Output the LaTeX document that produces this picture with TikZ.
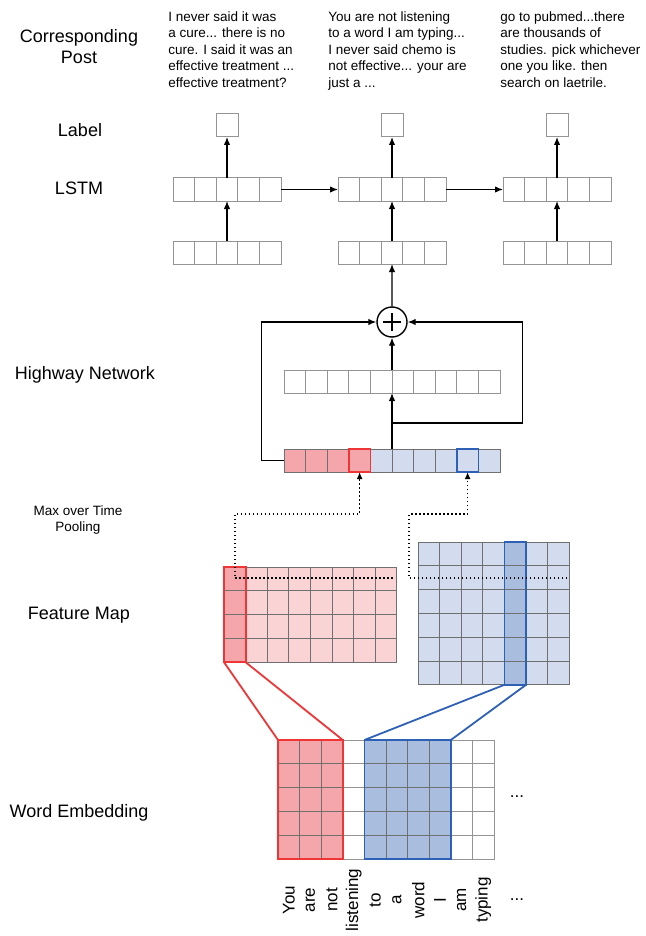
\documentclass[tikz,border=0pt]{standalone}
\usepackage{fontspec}
\setmainfont{Liberation Sans}
\usetikzlibrary{arrows.meta, positioning}

\definecolor{cellgray}{HTML}{949494}
\definecolor{gridgray}{HTML}{707070}
\definecolor{pinkfill}{HTML}{FAD3D5}
\definecolor{redfill}{HTML}{F4A6AA}
\definecolor{redline}{HTML}{EE3636}
\definecolor{bluefill}{HTML}{D3DCEE}
\definecolor{bluedark}{HTML}{A9BEDF}
\definecolor{blueline}{HTML}{2E60B5}
\newcommand\cellcol{cellgray}

\begin{document}
\begin{tikzpicture}[x=1pt, y=-1pt, >={Latex[length=8pt, width=6.5pt]}, semithick,
    big/.style={font=\fontsize{18}{21}\selectfont},
    small/.style={font=\fontsize{13.5}{16}\selectfont},
    post/.style={font=\fontsize{13.5}{16.5}\selectfont, align=left, inner sep=0, anchor=north west},
    word/.style={font=\fontsize{17}{20}\selectfont},
    celllines/.code={\def\cellcol{#1}},
    box/.style={draw=cellgray, line width=1pt, minimum width=22pt, minimum height=23pt, inner sep=0, outer sep=0},
    vec/.style={draw=\cellcol, line width=1pt, inner sep=0, outer sep=0,
      minimum width=#1*21.6pt, minimum height=23pt,
      path picture={\foreach \k in {1,...,#1}
        \draw[\cellcol, line width=1pt] ([xshift=\k*21.6pt]path picture bounding box.south west) -- ([xshift=\k*21.6pt]path picture bounding box.north west);}},
    fmap/.style 2 args={draw=\cellcol, line width=1pt, inner sep=0, outer sep=0,
      minimum width=#1*21.6pt, minimum height=#2*23.8pt,
      path picture={\foreach \k in {1,...,#1}
        \draw[\cellcol, line width=1pt] ([xshift=\k*21.6pt]path picture bounding box.south west) -- ([xshift=\k*21.6pt]path picture bounding box.north west);
        \foreach \k in {1,...,#2}
        \draw[\cellcol, line width=1pt] ([yshift=\k*23.8pt]path picture bounding box.south west) -- ([yshift=\k*23.8pt]path picture bounding box.south east);}},
    hot/.style={line width=1.8pt},
    flow/.style={->, line width=1.3pt},
    pool line/.style={-{Latex[length=7pt, width=6pt]}, line width=1.5pt, dash pattern=on 1.5pt off 2.5pt}]

    \useasboundingbox (0,0) rectangle (645,936);

    \node[big, align=center] (cp) at (79,46.5) {Corresponding\\Post};
    \node[big] (lb) at (80,130) {Label};
    \node[big] (ls) at (79,188) {LSTM};
    \node[big] (hn) at (85,375) {Highway Network};
    \node[small, align=center] (mp) at (78,520) {Max over Time\\Pooling};
    \node[big] (fm) at (79,615) {Feature Map};
    \node[big] (we) at (79,813) {Word Embedding};

    \node[post] (p1) at (168,11) {I never said it was\\a cure... there is no\\cure. I said it was an\\effective treatment ...\\effective treatment?};
    \node[post] (p2) at (328,11) {You are not listening\\to a word I am typing...\\I never said chemo is\\not effective... your are\\just a ...};
    \node[post] (p3) at (500,11) {go to pubmed...there\\are thousands of\\studies. pick whichever\\one you like. then\\search on laetrile.};

    \node[vec=5] (h1) at (227,189.5) {};
    \node[vec=5, right=57pt of h1] (h2) {};
    \node[vec=5, right=57pt of h2] (h3) {};
    \node[box, above=41pt of h1] (y1) {};
    \node[box, above=41pt of h2] (y2) {};
    \node[box, above=41pt of h3] (y3) {};
    \node[vec=5, below=40pt of h1] (x1) {};
    \node[vec=5, below=40pt of h2] (x2) {};
    \node[vec=5, below=40pt of h3] (x3) {};

    \node[circle, draw, line width=1.4pt, minimum size=30pt, inner sep=0,
      path picture={\draw[line width=1.3pt]
        ([xshift=-9pt]path picture bounding box.center) -- ([xshift=9pt]path picture bounding box.center)
        ([yshift=-9pt]path picture bounding box.center) -- ([yshift=9pt]path picture bounding box.center);}] (s) at (392,322) {};
    \node[vec=10] (hw) at (392,381.5) {};

    \node[celllines=gridgray, vec=4, fill=redfill, anchor=west] (pr) at (284,460.5) {};
    \node[celllines=gridgray, vec=6, fill=bluefill, right=0pt of pr] (pb) {};
    \node[celllines=gridgray, vec=1, fill=redfill, draw=redline, hot, anchor=east] (pm) at (pr.east) {};
    \node[celllines=gridgray, vec=1, fill=bluefill, draw=blueline, hot, anchor=west] (pn) at ([xshift=86.4pt]pb.west) {};

    \node[celllines=gridgray, fmap={8}{4}, fill=pinkfill, anchor=north west] (fr) at (224,567) {};
    \node[celllines=gridgray, fmap={1}{4}, fill=redfill, draw=redline, hot, anchor=north west] (fc) at (fr.north west) {};
    \node[celllines=gridgray, fmap={7}{6}, fill=bluefill, anchor=north west] (fb) at (418,542) {};
    \node[celllines=gridgray, fmap={1}{6}, fill=bluedark, draw=blueline, hot, anchor=north west] (fd) at ([xshift=86.4pt]fb.north west) {};

    \node[fmap={10}{5}, anchor=north west] (em) at (278,740) {};
    \node[celllines=gridgray, fmap={3}{5}, fill=redfill, draw=redline, hot, anchor=north west] (er) at (em.north west) {};
    \node[celllines=gridgray, fmap={4}{5}, fill=bluedark, draw=blueline, hot, anchor=north west] (eb) at ([xshift=86.4pt]em.north west) {};

    \foreach \w [count=\i] in {You,are,not,listening,to,a,word,I,am,typing}
      \node[word, rotate=90] (w\i) at ([xshift=\i*21.6pt-10.8pt, yshift=-41pt]em.south west) {\w};
    \node[word] (d1) at (517,797) {...};
    \node[word] (d2) at (517,900) {...};

    \path[flow]
    (h1) edge (y1)
    (h2) edge (y2)
    (h3) edge (y3)
    (x1) edge (h1)
    (x2) edge (h2)
    (x3) edge (h3)
    (h1) edge (h2)
    (h2) edge (h3)
    (s) edge (x2)
    (hw) edge (s);

    \coordinate (br) at (392,423);
    \coordinate (bt) at (522.5,423);
    \draw[flow] (hw.south |- pb.north) -- (hw.south);
    \draw[flow] (br) -- (bt) |- (s.east);
    \draw[flow] (pr.west) -- ++(-22.3,0) |- (s.west);

    \coordinate (dr) at ([xshift=-4pt, yshift=-11pt]fr.north east);
    \coordinate (db) at ([xshift=-2pt, yshift=-36pt]fb.north east);
    \draw[pool line] (dr) -- ++(-158,0) -- ++(0,-64) -| (pm.south);
    \draw[pool line] (db) -- ++(-158,0) -- ++(0,-64) -| (pn.south);

    \draw[redline, hot] (fc.south west) -- (er.north west) (fc.south east) -- (er.north east);
    \draw[blueline, hot] (fd.south west) -- (eb.north west) (fd.south east) -- (eb.north east);
\end{tikzpicture}
\end{document}
